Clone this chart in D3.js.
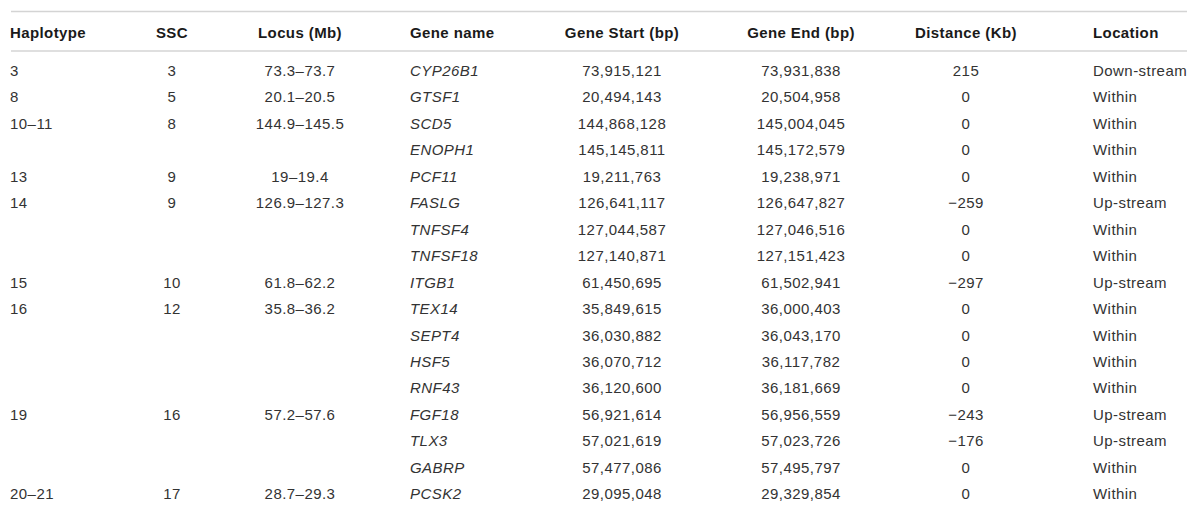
<!DOCTYPE html>
<html>
<head>
<meta charset="utf-8">
<script src="https://cdn.jsdelivr.net/npm/d3@7"></script>
<style>
  html, body { margin: 0; padding: 0; background: #fff; }
  svg text { font-family: "Liberation Sans", Arial, sans-serif; }
</style>
</head>
<body>
<div id="table"></div>
<script>
// Dữ liệu bảng
const headers = ["Haplotype", "SSC", "Locus (Mb)", "Gene name", "Gene Start (bp)", "Gene End (bp)", "Distance (Kb)", "Location"];
const haplotypes = ["3", "8", "10–11", "", "13", "14", "", "", "15", "16", "", "", "", "19", "", "", "20–21"];
const ssc = ["3", "5", "8", "", "9", "9", "", "", "10", "12", "", "", "", "16", "", "", "17"];
const locus = ["73.3–73.7", "20.1–20.5", "144.9–145.5", "", "19–19.4", "126.9–127.3", "", "", "61.8–62.2", "35.8–36.2", "", "", "", "57.2–57.6", "", "", "28.7–29.3"];
const genes = ["CYP26B1", "GTSF1", "SCD5", "ENOPH1", "PCF11", "FASLG", "TNFSF4", "TNFSF18", "ITGB1", "TEX14", "SEPT4", "HSF5", "RNF43", "FGF18", "TLX3", "GABRP", "PCSK2"];
const geneStart = [73915121, 20494143, 144868128, 145145811, 19211763, 126641117, 127044587, 127140871, 61450695, 35849615, 36030882, 36070712, 36120600, 56921614, 57021619, 57477086, 29095048];
const geneEnd = [73931838, 20504958, 145004045, 145172579, 19238971, 126647827, 127046516, 127151423, 61502941, 36000403, 36043170, 36117782, 36181669, 56956559, 57023726, 57495797, 29329854];
const distance = [215, 0, 0, 0, 0, -259, 0, 0, -297, 0, 0, 0, 0, -243, -176, 0, 0];
const geneLocation = ["Down-stream", "Within", "Within", "Within", "Within", "Up-stream", "Within", "Within", "Up-stream", "Within", "Within", "Within", "Within", "Up-stream", "Up-stream", "Within", "Within"];

const width = 1200;
const height = 514;
const fmt = d3.format(",");

// Cột: vị trí x và kiểu căn lề
const colX = d3.scaleOrdinal().domain(d3.range(8)).range([10, 172, 300, 410, 622, 801, 966, 1093]);
const colAnchor = ["start", "middle", "middle", "start", "middle", "middle", "middle", "start"];

// Hàng
const y = d3.scaleLinear().domain([0, genes.length - 1]).range([76, 499.3]);

const rows = genes.map((g, i) => [
    haplotypes[i], ssc[i], locus[i], g,
    fmt(geneStart[i]), fmt(geneEnd[i]), fmt(distance[i]), geneLocation[i]
]);

const svg = d3.select('#table')
    .append('svg')
    .attr('width', width)
    .attr('height', height);

// Đường kẻ ngang
svg.selectAll('line.rule')
    .data([11.5, 51])
    .enter()
    .append('line')
    .attr('class', 'rule')
    .attr('x1', 11)
    .attr('x2', 1187)
    .attr('y1', d => d)
    .attr('y2', d => d)
    .attr('stroke', '#d4d4d4')
    .attr('stroke-width', 1.6);

// Tiêu đề
svg.selectAll('text.header')
    .data(headers)
    .enter()
    .append('text')
    .attr('class', 'header')
    .attr('x', (d, i) => colX(i))
    .attr('y', 37.5)
    .attr('text-anchor', (d, i) => colAnchor[i])
    .style('font-size', '15px')
    .style('font-weight', 'bold')
    .style('letter-spacing', '0.4px')
    .style('fill', '#1a1a1a')
    .text(d => d);

// Các hàng dữ liệu
const rowG = svg.selectAll('g.row')
    .data(rows)
    .enter()
    .append('g')
    .attr('class', 'row')
    .attr('transform', (d, i) => `translate(0, ${y(i)})`);

rowG.selectAll('text')
    .data(d => d)
    .enter()
    .append('text')
    .attr('x', (d, i) => colX(i))
    .attr('text-anchor', (d, i) => colAnchor[i])
    .style('font-size', '15px')
    .style('font-style', (d, i) => i === 3 ? 'italic' : 'normal')
    .style('letter-spacing', '0.45px')
    .style('fill', '#333')
    .text(d => d);
</script>
</body>
</html>
